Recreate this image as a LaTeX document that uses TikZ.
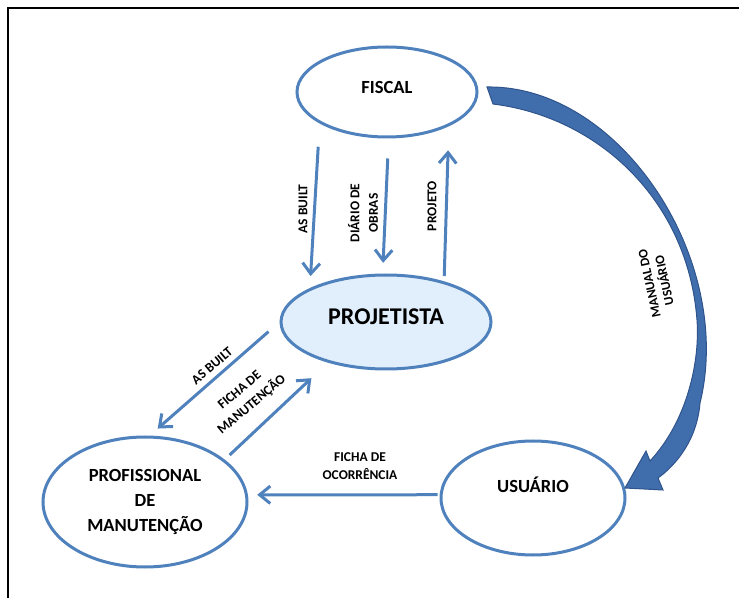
\documentclass[tikz,border=0pt]{standalone}
\usepackage{fontspec}
\setmainfont{Carlito}
\usetikzlibrary{shapes.geometric,arrows.meta}

\definecolor{bordaazul}{RGB}{79,129,189}
\definecolor{fundoazul}{RGB}{225,238,251}
\definecolor{setaescura}{RGB}{64,110,172}
\definecolor{setaborda}{RGB}{47,84,140}

\tikzset{
  entidade/.style={draw=bordaazul, line width=2.25pt, ellipse, inner sep=0pt,
    font=\fontsize{13.9}{18.4}\selectfont\bfseries, align=center},
  fluxo/.style={draw=bordaazul, line width=2.25pt,
    -{Straight Barb[length=8pt,width=13pt]}},
  rotulo/.style={font=\fontsize{10.1}{14}\selectfont\bfseries, align=center, inner sep=0.75pt},
}

\begin{document}
\begin{tikzpicture}[x=0.75pt,y=0.75pt,yscale=-1,xscale=1]
\useasboundingbox (0,0) rectangle (739,598);

%Straight Lines [frame]
\draw [line width=1.5pt] (8,598) -- (8,8) -- (739,8) ;

%Shape: Ellipse
\node [entidade, minimum width=135pt, minimum height=67.5pt, text depth=7.5pt] (fiscal) at (387,92) {FISCAL};
%Shape: Ellipse
\node [entidade, fill=fundoazul, minimum width=157.5pt, minimum height=70.5pt, text depth=7.5pt,
  font=\fontsize{18}{20}\selectfont\bfseries] (proj) at (386,322) {PROJETISTA};
%Shape: Ellipse
\node [entidade, minimum width=153pt, minimum height=97.5pt] (prof) at (145,502) {PROFISSIONAL\\DE\\MANUTENÇÃO};
%Shape: Ellipse
\node [entidade, minimum width=138pt, minimum height=85.5pt, text depth=19.5pt] (usu) at (533,498) {USUÁRIO};

%Straight Lines
\draw [fluxo, shorten <=17.5pt, shorten >=9pt] (fiscal.205) -- (proj.156) ;
%Straight Lines
\draw [fluxo, shorten <=15pt, shorten >=8pt] (fiscal.272) -- (proj.94) ;
%Straight Lines
\draw [fluxo, shorten <=4pt, shorten >=18pt] (proj.35) -- (fiscal.331) ;
%Straight Lines
\draw [fluxo, shorten <=11pt, shorten >=8pt] (proj.180) -- (prof.86) ;
%Straight Lines
\draw [fluxo, shorten <=5pt, shorten >=17pt] (prof.28) -- (proj.215) ;
%Straight Lines
\draw [fluxo, shorten <=1.5pt, shorten >=7pt] (usu.178) -- (prof.4.5) ;

%Shape: Curved Arrow
\filldraw [fill=setaescura, draw=setaborda, line width=0.75pt]
  (487,87) .. controls (620,85) and (735,260) .. (700,403)
  .. controls (697,440) and (676,465) .. (658,478) -- (663,490) -- (625,488) -- (646,451) -- (650,461)
  .. controls (688,420) and (700,360) .. (697,320)
  .. controls (688,200) and (598,117) .. (493,104) -- cycle ;

% Text Node
\node [rotulo, rotate=90] (lab-asb1) at (303,209) {AS BUILT};
% Text Node
\node [rotulo, rotate=90] (lab-diario) at (363,213) {DIÁRIO DE\\OBRAS};
% Text Node
\node [rotulo, rotate=90] (lab-projeto) at (432,206) {PROJETO};
% Text Node
\node [rotulo, rotate=40] (lab-asb2) at (212,366) {AS BUILT};
% Text Node
\node [rotulo, rotate=40] (lab-ficha) at (246,398) {FICHA DE\\MANUTENÇÃO};
% Text Node
\node [rotulo] (lab-ocorr) at (360,466) {FICHA DE\\OCORRÊNCIA};
% Text Node
\node [rotulo, rotate=102, font=\fontsize{9.8}{11.5}\selectfont\bfseries] (lab-manual) at (657,282) {MANUAL DO\\USUÁRIO};

\end{tikzpicture}
\end{document}
